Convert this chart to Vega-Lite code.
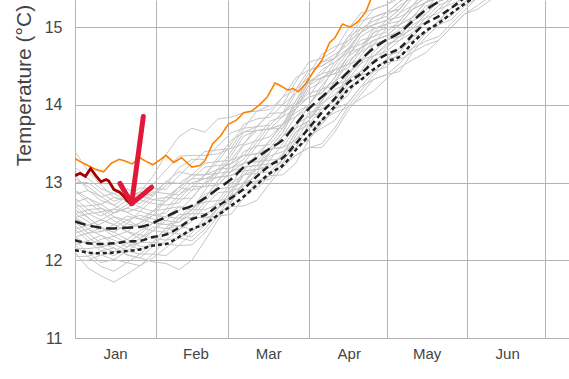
{
"$schema": "https://vega.github.io/schema/vega-lite/v6.json",
"width": 494, "height": 338,
"autosize": {"type": "none"},
"padding": {"left": 75, "top": 0, "right": 0, "bottom": 41},
"background": "white",
"config": {"view": {"stroke": null}, "font": "Liberation Sans"},
"datasets": {
"gray": [
{"s":1,"d":0,"t":13.40},{"s":1,"d":5,"t":13.15},{"s":1,"d":10,"t":12.97},{"s":1,"d":15,"t":12.81},{"s":1,"d":20,"t":12.77},{"s":1,"d":25,"t":12.73},{"s":1,"d":30,"t":12.86},{"s":1,"d":35,"t":13.01},{"s":1,"d":40,"t":12.99},{"s":1,"d":45,"t":13.10},{"s":1,"d":50,"t":13.10},{"s":1,"d":55,"t":13.17},{"s":1,"d":60,"t":13.24},{"s":1,"d":65,"t":13.48},{"s":1,"d":70,"t":13.54},{"s":1,"d":75,"t":13.59},{"s":1,"d":80,"t":13.75},{"s":1,"d":85,"t":14.00},{"s":1,"d":90,"t":14.25},{"s":1,"d":95,"t":14.45},{"s":1,"d":100,"t":14.55},{"s":1,"d":105,"t":14.70},{"s":1,"d":110,"t":14.93},{"s":1,"d":115,"t":15.03},{"s":1,"d":120,"t":15.09},{"s":1,"d":125,"t":15.23},{"s":1,"d":130,"t":15.43},
{"s":2,"d":0,"t":12.10},{"s":2,"d":5,"t":11.90},{"s":2,"d":10,"t":11.80},{"s":2,"d":15,"t":11.72},{"s":2,"d":20,"t":11.82},{"s":2,"d":25,"t":11.93},{"s":2,"d":30,"t":12.03},{"s":2,"d":35,"t":12.16},{"s":2,"d":40,"t":12.29},{"s":2,"d":45,"t":12.38},{"s":2,"d":50,"t":12.50},{"s":2,"d":55,"t":12.67},{"s":2,"d":60,"t":12.76},{"s":2,"d":65,"t":13.00},{"s":2,"d":70,"t":13.17},{"s":2,"d":75,"t":13.22},{"s":2,"d":80,"t":13.37},{"s":2,"d":85,"t":13.65},{"s":2,"d":90,"t":13.80},{"s":2,"d":95,"t":14.02},{"s":2,"d":100,"t":14.13},{"s":2,"d":105,"t":14.32},{"s":2,"d":110,"t":14.53},{"s":2,"d":115,"t":14.63},{"s":2,"d":120,"t":14.76},{"s":2,"d":125,"t":14.88},{"s":2,"d":130,"t":14.98},{"s":2,"d":135,"t":15.17},{"s":2,"d":140,"t":15.33},{"s":2,"d":145,"t":15.40},{"s":2,"d":150,"t":15.57},
{"s":3,"d":0,"t":12.50},{"s":3,"d":5,"t":12.35},{"s":3,"d":10,"t":12.22},{"s":3,"d":15,"t":12.16},{"s":3,"d":20,"t":12.07},{"s":3,"d":25,"t":12.03},{"s":3,"d":30,"t":11.98},{"s":3,"d":35,"t":11.96},{"s":3,"d":40,"t":11.88},{"s":3,"d":45,"t":12.00},{"s":3,"d":50,"t":12.25},{"s":3,"d":55,"t":12.52},{"s":3,"d":60,"t":12.74},{"s":3,"d":65,"t":13.00},{"s":3,"d":70,"t":13.17},{"s":3,"d":75,"t":13.34},{"s":3,"d":80,"t":13.40},{"s":3,"d":85,"t":13.50},{"s":3,"d":90,"t":13.60},{"s":3,"d":95,"t":13.70},{"s":3,"d":100,"t":13.80},{"s":3,"d":105,"t":14.02},{"s":3,"d":110,"t":14.23},{"s":3,"d":115,"t":14.33},{"s":3,"d":120,"t":14.39},{"s":3,"d":125,"t":14.53},{"s":3,"d":130,"t":14.73},{"s":3,"d":135,"t":14.82},{"s":3,"d":140,"t":14.88},{"s":3,"d":145,"t":15.05},{"s":3,"d":150,"t":15.22},{"s":3,"d":155,"t":15.38},{"s":3,"d":160,"t":15.50},
{"s":4,"d":0,"t":12.70},{"s":4,"d":5,"t":12.70},{"s":4,"d":10,"t":12.72},{"s":4,"d":15,"t":12.81},{"s":4,"d":20,"t":12.77},{"s":4,"d":25,"t":12.88},{"s":4,"d":30,"t":13.08},{"s":4,"d":35,"t":13.36},{"s":4,"d":40,"t":13.59},{"s":4,"d":45,"t":13.70},{"s":4,"d":50,"t":13.65},{"s":4,"d":55,"t":13.82},{"s":4,"d":60,"t":13.84},{"s":4,"d":65,"t":13.90},{"s":4,"d":70,"t":13.92},{"s":4,"d":75,"t":13.94},{"s":4,"d":80,"t":14.10},{"s":4,"d":85,"t":14.20},{"s":4,"d":90,"t":14.35},{"s":4,"d":95,"t":14.55},{"s":4,"d":100,"t":14.65},{"s":4,"d":105,"t":14.77},{"s":4,"d":110,"t":14.98},{"s":4,"d":115,"t":15.08},{"s":4,"d":120,"t":15.14},{"s":4,"d":125,"t":15.28},{"s":4,"d":130,"t":15.38},{"s":4,"d":135,"t":15.47},
{"s":5,"d":0,"t":12.60},{"s":5,"d":5,"t":12.50},{"s":5,"d":10,"t":12.37},{"s":5,"d":15,"t":12.41},{"s":5,"d":20,"t":12.52},{"s":5,"d":25,"t":12.58},{"s":5,"d":30,"t":12.53},{"s":5,"d":35,"t":12.51},{"s":5,"d":40,"t":12.64},{"s":5,"d":45,"t":12.80},{"s":5,"d":50,"t":13.00},{"s":5,"d":55,"t":13.07},{"s":5,"d":60,"t":13.09},{"s":5,"d":65,"t":13.20},{"s":5,"d":70,"t":13.22},{"s":5,"d":75,"t":13.39},{"s":5,"d":80,"t":13.60},{"s":5,"d":85,"t":13.85},{"s":5,"d":90,"t":13.95},{"s":5,"d":95,"t":14.05},{"s":5,"d":100,"t":14.30},{"s":5,"d":105,"t":14.57},{"s":5,"d":110,"t":14.68},{"s":5,"d":115,"t":14.78},{"s":5,"d":120,"t":14.84},{"s":5,"d":125,"t":14.88},{"s":5,"d":130,"t":15.13},{"s":5,"d":135,"t":15.32},{"s":5,"d":140,"t":15.38},{"s":5,"d":145,"t":15.45},
{"s":6,"d":0,"t":12.30},{"s":6,"d":5,"t":12.20},{"s":6,"d":10,"t":12.27},{"s":6,"d":15,"t":12.31},{"s":6,"d":20,"t":12.22},{"s":6,"d":25,"t":12.13},{"s":6,"d":30,"t":12.23},{"s":6,"d":35,"t":12.41},{"s":6,"d":40,"t":12.44},{"s":6,"d":45,"t":12.40},{"s":6,"d":50,"t":12.45},{"s":6,"d":55,"t":12.67},{"s":6,"d":60,"t":12.89},{"s":6,"d":65,"t":13.10},{"s":6,"d":70,"t":13.27},{"s":6,"d":75,"t":13.29},{"s":6,"d":80,"t":13.30},{"s":6,"d":85,"t":13.45},{"s":6,"d":90,"t":13.75},{"s":6,"d":95,"t":13.95},{"s":6,"d":100,"t":14.00},{"s":6,"d":105,"t":14.12},{"s":6,"d":110,"t":14.38},{"s":6,"d":115,"t":14.58},{"s":6,"d":120,"t":14.64},{"s":6,"d":125,"t":14.68},{"s":6,"d":130,"t":14.88},{"s":6,"d":135,"t":15.07},{"s":6,"d":140,"t":15.23},{"s":6,"d":145,"t":15.30},{"s":6,"d":150,"t":15.37},{"s":6,"d":155,"t":15.53},
{"s":7,"d":0,"t":12.80},{"s":7,"d":5,"t":12.65},{"s":7,"d":10,"t":12.57},{"s":7,"d":15,"t":12.66},{"s":7,"d":20,"t":12.62},{"s":7,"d":25,"t":12.53},{"s":7,"d":30,"t":12.63},{"s":7,"d":35,"t":12.81},{"s":7,"d":40,"t":12.94},{"s":7,"d":45,"t":12.90},{"s":7,"d":50,"t":12.95},{"s":7,"d":55,"t":13.17},{"s":7,"d":60,"t":13.39},{"s":7,"d":65,"t":13.65},{"s":7,"d":70,"t":13.72},{"s":7,"d":75,"t":13.74},{"s":7,"d":80,"t":13.90},{"s":7,"d":85,"t":14.20},{"s":7,"d":90,"t":14.45},{"s":7,"d":95,"t":14.50},{"s":7,"d":100,"t":14.60},{"s":7,"d":105,"t":14.87},{"s":7,"d":110,"t":15.08},{"s":7,"d":115,"t":15.13},{"s":7,"d":120,"t":15.19},{"s":7,"d":125,"t":15.33},{"s":7,"d":130,"t":15.53},
{"s":8,"d":0,"t":12.40},{"s":8,"d":5,"t":12.45},{"s":8,"d":10,"t":12.52},{"s":8,"d":15,"t":12.46},{"s":8,"d":20,"t":12.37},{"s":8,"d":25,"t":12.28},{"s":8,"d":30,"t":12.38},{"s":8,"d":35,"t":12.56},{"s":8,"d":40,"t":12.69},{"s":8,"d":45,"t":12.65},{"s":8,"d":50,"t":12.65},{"s":8,"d":55,"t":12.72},{"s":8,"d":60,"t":12.94},{"s":8,"d":65,"t":13.25},{"s":8,"d":70,"t":13.47},{"s":8,"d":75,"t":13.69},{"s":8,"d":80,"t":13.75},{"s":8,"d":85,"t":13.85},{"s":8,"d":90,"t":14.00},{"s":8,"d":95,"t":14.25},{"s":8,"d":100,"t":14.45},{"s":8,"d":105,"t":14.52},{"s":8,"d":110,"t":14.58},{"s":8,"d":115,"t":14.78},{"s":8,"d":120,"t":14.99},{"s":8,"d":125,"t":15.03},{"s":8,"d":130,"t":15.13},{"s":8,"d":135,"t":15.22},{"s":8,"d":140,"t":15.43},
{"s":9,"d":0,"t":12.55},{"s":9,"d":5,"t":12.60},{"s":9,"d":10,"t":12.62},{"s":9,"d":15,"t":12.51},{"s":9,"d":20,"t":12.42},{"s":9,"d":25,"t":12.48},{"s":9,"d":30,"t":12.63},{"s":9,"d":35,"t":12.66},{"s":9,"d":40,"t":12.84},{"s":9,"d":45,"t":13.00},{"s":9,"d":50,"t":13.05},{"s":9,"d":55,"t":13.07},{"s":9,"d":60,"t":13.09},{"s":9,"d":65,"t":13.15},{"s":9,"d":70,"t":13.17},{"s":9,"d":75,"t":13.19},{"s":9,"d":80,"t":13.35},{"s":9,"d":85,"t":13.65},{"s":9,"d":90,"t":13.75},{"s":9,"d":95,"t":13.80},{"s":9,"d":100,"t":14.00},{"s":9,"d":105,"t":14.27},{"s":9,"d":110,"t":14.38},{"s":9,"d":115,"t":14.43},{"s":9,"d":120,"t":14.49},{"s":9,"d":125,"t":14.68},{"s":9,"d":130,"t":14.88},{"s":9,"d":135,"t":14.92},{"s":9,"d":140,"t":15.08},{"s":9,"d":145,"t":15.25},{"s":9,"d":150,"t":15.42},
{"s":10,"d":0,"t":12.20},{"s":10,"d":5,"t":12.25},{"s":10,"d":10,"t":12.32},{"s":10,"d":15,"t":12.26},{"s":10,"d":20,"t":12.17},{"s":10,"d":25,"t":12.23},{"s":10,"d":30,"t":12.38},{"s":10,"d":35,"t":12.51},{"s":10,"d":40,"t":12.49},{"s":10,"d":45,"t":12.60},{"s":10,"d":50,"t":12.80},{"s":10,"d":55,"t":13.02},{"s":10,"d":60,"t":13.24},{"s":10,"d":65,"t":13.35},{"s":10,"d":70,"t":13.37},{"s":10,"d":75,"t":13.44},{"s":10,"d":80,"t":13.65},{"s":10,"d":85,"t":13.95},{"s":10,"d":90,"t":14.20},{"s":10,"d":95,"t":14.30},{"s":10,"d":100,"t":14.55},{"s":10,"d":105,"t":14.67},{"s":10,"d":110,"t":14.73},{"s":10,"d":115,"t":14.93},{"s":10,"d":120,"t":15.09},{"s":10,"d":125,"t":15.13},{"s":10,"d":130,"t":15.23},{"s":10,"d":135,"t":15.42},
{"s":11,"d":0,"t":12.90},{"s":11,"d":5,"t":12.80},{"s":11,"d":10,"t":12.67},{"s":11,"d":15,"t":12.61},{"s":11,"d":20,"t":12.72},{"s":11,"d":25,"t":12.78},{"s":11,"d":30,"t":12.73},{"s":11,"d":35,"t":12.71},{"s":11,"d":40,"t":12.74},{"s":11,"d":45,"t":12.90},{"s":11,"d":50,"t":13.10},{"s":11,"d":55,"t":13.32},{"s":11,"d":60,"t":13.54},{"s":11,"d":65,"t":13.65},{"s":11,"d":70,"t":13.67},{"s":11,"d":75,"t":13.69},{"s":11,"d":80,"t":13.70},{"s":11,"d":85,"t":13.95},{"s":11,"d":90,"t":14.25},{"s":11,"d":95,"t":14.35},{"s":11,"d":100,"t":14.40},{"s":11,"d":105,"t":14.47},{"s":11,"d":110,"t":14.68},{"s":11,"d":115,"t":14.93},{"s":11,"d":120,"t":14.99},{"s":11,"d":125,"t":15.03},{"s":11,"d":130,"t":15.13},{"s":11,"d":135,"t":15.32},{"s":11,"d":140,"t":15.48},
{"s":12,"d":0,"t":12.00},{"s":12,"d":5,"t":12.00},{"s":12,"d":10,"t":12.07},{"s":12,"d":15,"t":12.01},{"s":12,"d":20,"t":11.97},{"s":12,"d":25,"t":11.93},{"s":12,"d":30,"t":12.08},{"s":12,"d":35,"t":12.26},{"s":12,"d":40,"t":12.29},{"s":12,"d":45,"t":12.25},{"s":12,"d":50,"t":12.40},{"s":12,"d":55,"t":12.62},{"s":12,"d":60,"t":12.69},{"s":12,"d":65,"t":12.70},{"s":12,"d":70,"t":12.77},{"s":12,"d":75,"t":12.99},{"s":12,"d":80,"t":13.20},{"s":12,"d":85,"t":13.35},{"s":12,"d":90,"t":13.45},{"s":12,"d":95,"t":13.50},{"s":12,"d":100,"t":13.70},{"s":12,"d":105,"t":13.97},{"s":12,"d":110,"t":14.08},{"s":12,"d":115,"t":14.18},{"s":12,"d":120,"t":14.34},{"s":12,"d":125,"t":14.48},{"s":12,"d":130,"t":14.58},{"s":12,"d":135,"t":14.67},{"s":12,"d":140,"t":14.83},{"s":12,"d":145,"t":15.00},{"s":12,"d":150,"t":15.17},{"s":12,"d":155,"t":15.23},{"s":12,"d":160,"t":15.35},{"s":12,"d":165,"t":15.50},
{"s":13,"d":0,"t":12.65},{"s":13,"d":5,"t":12.55},{"s":13,"d":10,"t":12.42},{"s":13,"d":15,"t":12.36},{"s":13,"d":20,"t":12.47},{"s":13,"d":25,"t":12.63},{"s":13,"d":30,"t":12.78},{"s":13,"d":35,"t":12.81},{"s":13,"d":40,"t":12.79},{"s":13,"d":45,"t":12.80},{"s":13,"d":50,"t":13.00},{"s":13,"d":55,"t":13.17},{"s":13,"d":60,"t":13.19},{"s":13,"d":65,"t":13.30},{"s":13,"d":70,"t":13.52},{"s":13,"d":75,"t":13.74},{"s":13,"d":80,"t":13.90},{"s":13,"d":85,"t":14.00},{"s":13,"d":90,"t":14.10},{"s":13,"d":95,"t":14.15},{"s":13,"d":100,"t":14.35},{"s":13,"d":105,"t":14.62},{"s":13,"d":110,"t":14.83},{"s":13,"d":115,"t":14.88},{"s":13,"d":120,"t":14.94},{"s":13,"d":125,"t":15.08},{"s":13,"d":130,"t":15.28},{"s":13,"d":135,"t":15.47},
{"s":14,"d":0,"t":12.35},{"s":14,"d":5,"t":12.40},{"s":14,"d":10,"t":12.47},{"s":14,"d":15,"t":12.56},{"s":14,"d":20,"t":12.52},{"s":14,"d":25,"t":12.43},{"s":14,"d":30,"t":12.38},{"s":14,"d":35,"t":12.36},{"s":14,"d":40,"t":12.54},{"s":14,"d":45,"t":12.70},{"s":14,"d":50,"t":12.75},{"s":14,"d":55,"t":12.77},{"s":14,"d":60,"t":12.79},{"s":14,"d":65,"t":13.00},{"s":14,"d":70,"t":13.22},{"s":14,"d":75,"t":13.44},{"s":14,"d":80,"t":13.45},{"s":14,"d":85,"t":13.55},{"s":14,"d":90,"t":13.80},{"s":14,"d":95,"t":14.05},{"s":14,"d":100,"t":14.25},{"s":14,"d":105,"t":14.32},{"s":14,"d":110,"t":14.43},{"s":14,"d":115,"t":14.68},{"s":14,"d":120,"t":14.84},{"s":14,"d":125,"t":14.98},{"s":14,"d":130,"t":15.08},{"s":14,"d":135,"t":15.17},{"s":14,"d":140,"t":15.33},{"s":14,"d":145,"t":15.50},
{"s":15,"d":0,"t":13.10},{"s":15,"d":5,"t":12.90},{"s":15,"d":10,"t":12.77},{"s":15,"d":15,"t":12.71},{"s":15,"d":20,"t":12.82},{"s":15,"d":25,"t":12.88},{"s":15,"d":30,"t":12.83},{"s":15,"d":35,"t":12.96},{"s":15,"d":40,"t":13.19},{"s":15,"d":45,"t":13.30},{"s":15,"d":50,"t":13.30},{"s":15,"d":55,"t":13.47},{"s":15,"d":60,"t":13.64},{"s":15,"d":65,"t":13.70},{"s":15,"d":70,"t":13.72},{"s":15,"d":75,"t":13.89},{"s":15,"d":80,"t":14.10},{"s":15,"d":85,"t":14.35},{"s":15,"d":90,"t":14.45},{"s":15,"d":95,"t":14.50},{"s":15,"d":100,"t":14.60},{"s":15,"d":105,"t":14.87},{"s":15,"d":110,"t":14.98},{"s":15,"d":115,"t":15.03},{"s":15,"d":120,"t":15.19},{"s":15,"d":125,"t":15.33},{"s":15,"d":130,"t":15.43},
{"s":16,"d":0,"t":12.45},{"s":16,"d":5,"t":12.30},{"s":16,"d":10,"t":12.17},{"s":16,"d":15,"t":12.11},{"s":16,"d":20,"t":12.22},{"s":16,"d":25,"t":12.33},{"s":16,"d":30,"t":12.28},{"s":16,"d":35,"t":12.26},{"s":16,"d":40,"t":12.39},{"s":16,"d":45,"t":12.55},{"s":16,"d":50,"t":12.55},{"s":16,"d":55,"t":12.57},{"s":16,"d":60,"t":12.74},{"s":16,"d":65,"t":13.00},{"s":16,"d":70,"t":13.02},{"s":16,"d":75,"t":13.04},{"s":16,"d":80,"t":13.25},{"s":16,"d":85,"t":13.55},{"s":16,"d":90,"t":13.70},{"s":16,"d":95,"t":13.75},{"s":16,"d":100,"t":13.95},{"s":16,"d":105,"t":14.22},{"s":16,"d":110,"t":14.33},{"s":16,"d":115,"t":14.43},{"s":16,"d":120,"t":14.59},{"s":16,"d":125,"t":14.73},{"s":16,"d":130,"t":14.83},{"s":16,"d":135,"t":14.92},{"s":16,"d":140,"t":15.08},{"s":16,"d":145,"t":15.25},{"s":16,"d":150,"t":15.32},{"s":16,"d":155,"t":15.48},
{"s":17,"d":0,"t":12.75},{"s":17,"d":5,"t":12.80},{"s":17,"d":10,"t":12.72},{"s":17,"d":15,"t":12.61},{"s":17,"d":20,"t":12.67},{"s":17,"d":25,"t":12.78},{"s":17,"d":30,"t":12.88},{"s":17,"d":35,"t":12.86},{"s":17,"d":40,"t":12.84},{"s":17,"d":45,"t":12.95},{"s":17,"d":50,"t":12.95},{"s":17,"d":55,"t":12.97},{"s":17,"d":60,"t":13.14},{"s":17,"d":65,"t":13.40},{"s":17,"d":70,"t":13.47},{"s":17,"d":75,"t":13.49},{"s":17,"d":80,"t":13.70},{"s":17,"d":85,"t":14.00},{"s":17,"d":90,"t":14.30},{"s":17,"d":95,"t":14.40},{"s":17,"d":100,"t":14.45},{"s":17,"d":105,"t":14.67},{"s":17,"d":110,"t":14.93},{"s":17,"d":115,"t":15.13},{"s":17,"d":120,"t":15.19},{"s":17,"d":125,"t":15.23},{"s":17,"d":130,"t":15.43},
{"s":18,"d":0,"t":12.15},{"s":18,"d":5,"t":12.15},{"s":18,"d":10,"t":12.17},{"s":18,"d":15,"t":12.21},{"s":18,"d":20,"t":12.12},{"s":18,"d":25,"t":12.08},{"s":18,"d":30,"t":12.23},{"s":18,"d":35,"t":12.41},{"s":18,"d":40,"t":12.59},{"s":18,"d":45,"t":12.60},{"s":18,"d":50,"t":12.60},{"s":18,"d":55,"t":12.67},{"s":18,"d":60,"t":12.89},{"s":18,"d":65,"t":13.15},{"s":18,"d":70,"t":13.37},{"s":18,"d":75,"t":13.44},{"s":18,"d":80,"t":13.45},{"s":18,"d":85,"t":13.70},{"s":18,"d":90,"t":14.00},{"s":18,"d":95,"t":14.20},{"s":18,"d":100,"t":14.25},{"s":18,"d":105,"t":14.37},{"s":18,"d":110,"t":14.63},{"s":18,"d":115,"t":14.83},{"s":18,"d":120,"t":14.89},{"s":18,"d":125,"t":14.93},{"s":18,"d":130,"t":15.13},{"s":18,"d":135,"t":15.32},{"s":18,"d":140,"t":15.38},{"s":18,"d":145,"t":15.45},
{"s":19,"d":0,"t":12.55},{"s":19,"d":5,"t":12.40},{"s":19,"d":10,"t":12.32},{"s":19,"d":15,"t":12.21},{"s":19,"d":20,"t":12.27},{"s":19,"d":25,"t":12.38},{"s":19,"d":30,"t":12.48},{"s":19,"d":35,"t":12.46},{"s":19,"d":40,"t":12.44},{"s":19,"d":45,"t":12.55},{"s":19,"d":50,"t":12.75},{"s":19,"d":55,"t":12.97},{"s":19,"d":60,"t":13.14},{"s":19,"d":65,"t":13.20},{"s":19,"d":70,"t":13.22},{"s":19,"d":75,"t":13.24},{"s":19,"d":80,"t":13.25},{"s":19,"d":85,"t":13.35},{"s":19,"d":90,"t":13.45},{"s":19,"d":95,"t":13.45},{"s":19,"d":100,"t":13.65},{"s":19,"d":105,"t":13.92},{"s":19,"d":110,"t":14.13},{"s":19,"d":115,"t":14.33},{"s":19,"d":120,"t":14.39},{"s":19,"d":125,"t":14.43},{"s":19,"d":130,"t":14.68},{"s":19,"d":135,"t":14.77},{"s":19,"d":140,"t":14.83},{"s":19,"d":145,"t":15.00},{"s":19,"d":150,"t":15.17},{"s":19,"d":155,"t":15.28},{"s":19,"d":160,"t":15.40},{"s":19,"d":165,"t":15.55},
{"s":20,"d":0,"t":13.00},{"s":20,"d":5,"t":13.00},{"s":20,"d":10,"t":12.87},{"s":20,"d":15,"t":12.76},{"s":20,"d":20,"t":12.82},{"s":20,"d":25,"t":12.93},{"s":20,"d":30,"t":12.93},{"s":20,"d":35,"t":12.91},{"s":20,"d":40,"t":13.09},{"s":20,"d":45,"t":13.25},{"s":20,"d":50,"t":13.40},{"s":20,"d":55,"t":13.42},{"s":20,"d":60,"t":13.44},{"s":20,"d":65,"t":13.50},{"s":20,"d":70,"t":13.67},{"s":20,"d":75,"t":13.69},{"s":20,"d":80,"t":13.85},{"s":20,"d":85,"t":14.15},{"s":20,"d":90,"t":14.40},{"s":20,"d":95,"t":14.65},{"s":20,"d":100,"t":14.75},{"s":20,"d":105,"t":14.82},{"s":20,"d":110,"t":15.03},{"s":20,"d":115,"t":15.23},{"s":20,"d":120,"t":15.29},{"s":20,"d":125,"t":15.38},{"s":20,"d":130,"t":15.48},
{"s":21,"d":0,"t":12.70},{"s":21,"d":5,"t":12.55},{"s":21,"d":10,"t":12.42},{"s":21,"d":15,"t":12.31},{"s":21,"d":20,"t":12.37},{"s":21,"d":25,"t":12.48},{"s":21,"d":30,"t":12.58},{"s":21,"d":35,"t":12.56},{"s":21,"d":40,"t":12.54},{"s":21,"d":45,"t":12.65},{"s":21,"d":50,"t":12.90},{"s":21,"d":55,"t":13.12},{"s":21,"d":60,"t":13.29},{"s":21,"d":65,"t":13.35},{"s":21,"d":70,"t":13.37},{"s":21,"d":75,"t":13.54},{"s":21,"d":80,"t":13.75},{"s":21,"d":85,"t":13.90},{"s":21,"d":90,"t":14.00},{"s":21,"d":95,"t":14.20},{"s":21,"d":100,"t":14.50},{"s":21,"d":105,"t":14.72},{"s":21,"d":110,"t":14.78},{"s":21,"d":115,"t":14.88},{"s":21,"d":120,"t":15.04},{"s":21,"d":125,"t":15.18},{"s":21,"d":130,"t":15.28},{"s":21,"d":135,"t":15.37},{"s":21,"d":140,"t":15.53},
{"s":22,"d":0,"t":12.25},{"s":22,"d":5,"t":12.10},{"s":22,"d":10,"t":11.97},{"s":22,"d":15,"t":12.01},{"s":22,"d":20,"t":12.12},{"s":22,"d":25,"t":12.23},{"s":22,"d":30,"t":12.23},{"s":22,"d":35,"t":12.21},{"s":22,"d":40,"t":12.19},{"s":22,"d":45,"t":12.20},{"s":22,"d":50,"t":12.35},{"s":22,"d":55,"t":12.57},{"s":22,"d":60,"t":12.84},{"s":22,"d":65,"t":13.10},{"s":22,"d":70,"t":13.12},{"s":22,"d":75,"t":13.14},{"s":22,"d":80,"t":13.30},{"s":22,"d":85,"t":13.60},{"s":22,"d":90,"t":13.90},{"s":22,"d":95,"t":13.95},{"s":22,"d":100,"t":14.05},{"s":22,"d":105,"t":14.32},{"s":22,"d":110,"t":14.43},{"s":22,"d":115,"t":14.53},{"s":22,"d":120,"t":14.74},{"s":22,"d":125,"t":14.88},{"s":22,"d":130,"t":14.98},{"s":22,"d":135,"t":15.07},{"s":22,"d":140,"t":15.23},{"s":22,"d":145,"t":15.40},{"s":22,"d":150,"t":15.47},
{"s":23,"d":0,"t":12.85},{"s":23,"d":5,"t":12.90},{"s":23,"d":10,"t":12.82},{"s":23,"d":15,"t":12.71},{"s":23,"d":20,"t":12.62},{"s":23,"d":25,"t":12.68},{"s":23,"d":30,"t":12.83},{"s":23,"d":35,"t":13.01},{"s":23,"d":40,"t":13.14},{"s":23,"d":45,"t":13.10},{"s":23,"d":50,"t":13.10},{"s":23,"d":55,"t":13.27},{"s":23,"d":60,"t":13.49},{"s":23,"d":65,"t":13.75},{"s":23,"d":70,"t":13.82},{"s":23,"d":75,"t":13.84},{"s":23,"d":80,"t":14.00},{"s":23,"d":85,"t":14.30},{"s":23,"d":90,"t":14.55},{"s":23,"d":95,"t":14.60},{"s":23,"d":100,"t":14.70},{"s":23,"d":105,"t":14.97},{"s":23,"d":110,"t":15.18},{"s":23,"d":115,"t":15.23},{"s":23,"d":120,"t":15.29},{"s":23,"d":125,"t":15.43},
{"s":24,"d":0,"t":12.50},{"s":24,"d":5,"t":12.35},{"s":24,"d":10,"t":12.37},{"s":24,"d":15,"t":12.46},{"s":24,"d":20,"t":12.57},{"s":24,"d":25,"t":12.53},{"s":24,"d":30,"t":12.48},{"s":24,"d":35,"t":12.46},{"s":24,"d":40,"t":12.49},{"s":24,"d":45,"t":12.65},{"s":24,"d":50,"t":12.85},{"s":24,"d":55,"t":12.92},{"s":24,"d":60,"t":12.94},{"s":24,"d":65,"t":13.00},{"s":24,"d":70,"t":13.07},{"s":24,"d":75,"t":13.29},{"s":24,"d":80,"t":13.50},{"s":24,"d":85,"t":13.75},{"s":24,"d":90,"t":13.85},{"s":24,"d":95,"t":13.90},{"s":24,"d":100,"t":14.10},{"s":24,"d":105,"t":14.37},{"s":24,"d":110,"t":14.58},{"s":24,"d":115,"t":14.63},{"s":24,"d":120,"t":14.69},{"s":24,"d":125,"t":14.83},{"s":24,"d":130,"t":15.03},{"s":24,"d":135,"t":15.12},{"s":24,"d":140,"t":15.18},{"s":24,"d":145,"t":15.35},{"s":24,"d":150,"t":15.52},
{"s":25,"d":0,"t":13.05},{"s":25,"d":5,"t":12.95},{"s":25,"d":10,"t":12.82},{"s":25,"d":15,"t":12.86},{"s":25,"d":20,"t":12.92},{"s":25,"d":25,"t":12.83},{"s":25,"d":30,"t":12.78},{"s":25,"d":35,"t":12.76},{"s":25,"d":40,"t":12.89},{"s":25,"d":45,"t":13.05},{"s":25,"d":50,"t":13.20},{"s":25,"d":55,"t":13.22},{"s":25,"d":60,"t":13.24},{"s":25,"d":65,"t":13.35},{"s":25,"d":70,"t":13.57},{"s":25,"d":75,"t":13.79},{"s":25,"d":80,"t":13.85},{"s":25,"d":85,"t":13.95},{"s":25,"d":90,"t":14.10},{"s":25,"d":95,"t":14.35},{"s":25,"d":100,"t":14.45},{"s":25,"d":105,"t":14.52},{"s":25,"d":110,"t":14.73},{"s":25,"d":115,"t":14.98},{"s":25,"d":120,"t":15.04},{"s":25,"d":125,"t":15.08},{"s":25,"d":130,"t":15.28},{"s":25,"d":135,"t":15.47},
{"s":26,"d":0,"t":12.05},{"s":26,"d":5,"t":12.05},{"s":26,"d":10,"t":12.12},{"s":26,"d":15,"t":12.16},{"s":26,"d":20,"t":12.07},{"s":26,"d":25,"t":12.03},{"s":26,"d":30,"t":12.18},{"s":26,"d":35,"t":12.36},{"s":26,"d":40,"t":12.34},{"s":26,"d":45,"t":12.30},{"s":26,"d":50,"t":12.45},{"s":26,"d":55,"t":12.67},{"s":26,"d":60,"t":12.84},{"s":26,"d":65,"t":12.90},{"s":26,"d":70,"t":12.92},{"s":26,"d":75,"t":13.09},{"s":26,"d":80,"t":13.30},{"s":26,"d":85,"t":13.45},{"s":26,"d":90,"t":13.55},{"s":26,"d":95,"t":13.75},{"s":26,"d":100,"t":13.95},{"s":26,"d":105,"t":14.02},{"s":26,"d":110,"t":14.23},{"s":26,"d":115,"t":14.43},{"s":26,"d":120,"t":14.59},{"s":26,"d":125,"t":14.63},{"s":26,"d":130,"t":14.73},{"s":26,"d":135,"t":14.92},{"s":26,"d":140,"t":15.08},{"s":26,"d":145,"t":15.15},{"s":26,"d":150,"t":15.32},{"s":26,"d":155,"t":15.43},
{"s":27,"d":0,"t":12.60},{"s":27,"d":5,"t":12.65},{"s":27,"d":10,"t":12.67},{"s":27,"d":15,"t":12.56},{"s":27,"d":20,"t":12.47},{"s":27,"d":25,"t":12.43},{"s":27,"d":30,"t":12.58},{"s":27,"d":35,"t":12.76},{"s":27,"d":40,"t":12.94},{"s":27,"d":45,"t":13.05},{"s":27,"d":50,"t":13.05},{"s":27,"d":55,"t":13.12},{"s":27,"d":60,"t":13.34},{"s":27,"d":65,"t":13.60},{"s":27,"d":70,"t":13.67},{"s":27,"d":75,"t":13.69},{"s":27,"d":80,"t":13.75},{"s":27,"d":85,"t":14.05},{"s":27,"d":90,"t":14.30},{"s":27,"d":95,"t":14.35},{"s":27,"d":100,"t":14.40},{"s":27,"d":105,"t":14.62},{"s":27,"d":110,"t":14.88},{"s":27,"d":115,"t":14.98},{"s":27,"d":120,"t":15.04},{"s":27,"d":125,"t":15.18},{"s":27,"d":130,"t":15.38},{"s":27,"d":135,"t":15.47},
{"s":28,"d":0,"t":12.40},{"s":28,"d":5,"t":12.25},{"s":28,"d":10,"t":12.12},{"s":28,"d":15,"t":12.06},{"s":28,"d":20,"t":12.17},{"s":28,"d":25,"t":12.28},{"s":28,"d":30,"t":12.43},{"s":28,"d":35,"t":12.41},{"s":28,"d":40,"t":12.39},{"s":28,"d":45,"t":12.50},{"s":28,"d":50,"t":12.70},{"s":28,"d":55,"t":12.87},{"s":28,"d":60,"t":12.89},{"s":28,"d":65,"t":12.95},{"s":28,"d":70,"t":13.12},{"s":28,"d":75,"t":13.39},{"s":28,"d":80,"t":13.60},{"s":28,"d":85,"t":13.75},{"s":28,"d":90,"t":13.85},{"s":28,"d":95,"t":14.05},{"s":28,"d":100,"t":14.30},{"s":28,"d":105,"t":14.42},{"s":28,"d":110,"t":14.53},{"s":28,"d":115,"t":14.78},{"s":28,"d":120,"t":14.84},{"s":28,"d":125,"t":14.88},{"s":28,"d":130,"t":15.08},{"s":28,"d":135,"t":15.27},{"s":28,"d":140,"t":15.33},{"s":28,"d":145,"t":15.40},{"s":28,"d":150,"t":15.57},
{"s":29,"d":0,"t":13.20},{"s":29,"d":5,"t":13.05},{"s":29,"d":10,"t":12.92},{"s":29,"d":15,"t":12.86},{"s":29,"d":20,"t":12.77},{"s":29,"d":25,"t":12.83},{"s":29,"d":30,"t":12.98},{"s":29,"d":35,"t":13.16},{"s":29,"d":40,"t":13.34},{"s":29,"d":45,"t":13.35},{"s":29,"d":50,"t":13.35},{"s":29,"d":55,"t":13.37},{"s":29,"d":60,"t":13.44},{"s":29,"d":65,"t":13.70},{"s":29,"d":70,"t":13.92},{"s":29,"d":75,"t":13.99},{"s":29,"d":80,"t":14.00},{"s":29,"d":85,"t":14.15},{"s":29,"d":90,"t":14.30},{"s":29,"d":95,"t":14.40},{"s":29,"d":100,"t":14.60},{"s":29,"d":105,"t":14.82},{"s":29,"d":110,"t":14.93},{"s":29,"d":115,"t":15.03},{"s":29,"d":120,"t":15.09},{"s":29,"d":125,"t":15.23},{"s":29,"d":130,"t":15.43},
{"s":30,"d":0,"t":12.30},{"s":30,"d":5,"t":12.35},{"s":30,"d":10,"t":12.42},{"s":30,"d":15,"t":12.36},{"s":30,"d":20,"t":12.27},{"s":30,"d":25,"t":12.18},{"s":30,"d":30,"t":12.18},{"s":30,"d":35,"t":12.36},{"s":30,"d":40,"t":12.54},{"s":30,"d":45,"t":12.55},{"s":30,"d":50,"t":12.55},{"s":30,"d":55,"t":12.57},{"s":30,"d":60,"t":12.59},{"s":30,"d":65,"t":12.80},{"s":30,"d":70,"t":13.02},{"s":30,"d":75,"t":13.09},{"s":30,"d":80,"t":13.10},{"s":30,"d":85,"t":13.25},{"s":30,"d":90,"t":13.55},{"s":30,"d":95,"t":13.80},{"s":30,"d":100,"t":13.90},{"s":30,"d":105,"t":13.97},{"s":30,"d":110,"t":14.18},{"s":30,"d":115,"t":14.38},{"s":30,"d":120,"t":14.54},{"s":30,"d":125,"t":14.58},{"s":30,"d":130,"t":14.68},{"s":30,"d":135,"t":14.87},{"s":30,"d":140,"t":15.03},{"s":30,"d":145,"t":15.10},{"s":30,"d":150,"t":15.27},{"s":30,"d":155,"t":15.38},{"s":30,"d":160,"t":15.50},
{"s":31,"d":0,"t":12.75},{"s":31,"d":5,"t":12.60},{"s":31,"d":10,"t":12.52},{"s":31,"d":15,"t":12.46},{"s":31,"d":20,"t":12.37},{"s":31,"d":25,"t":12.33},{"s":31,"d":30,"t":12.48},{"s":31,"d":35,"t":12.66},{"s":31,"d":40,"t":12.69},{"s":31,"d":45,"t":12.65},{"s":31,"d":50,"t":12.80},{"s":31,"d":55,"t":13.02},{"s":31,"d":60,"t":13.19},{"s":31,"d":65,"t":13.25},{"s":31,"d":70,"t":13.27},{"s":31,"d":75,"t":13.44},{"s":31,"d":80,"t":13.65},{"s":31,"d":85,"t":13.95},{"s":31,"d":90,"t":14.10},{"s":31,"d":95,"t":14.15},{"s":31,"d":100,"t":14.35},{"s":31,"d":105,"t":14.62},{"s":31,"d":110,"t":14.73},{"s":31,"d":115,"t":14.83},{"s":31,"d":120,"t":14.89},{"s":31,"d":125,"t":15.03},{"s":31,"d":130,"t":15.23},{"s":31,"d":135,"t":15.32},{"s":31,"d":140,"t":15.38},{"s":31,"d":145,"t":15.55},
{"s":32,"d":0,"t":12.20},{"s":32,"d":5,"t":12.05},{"s":32,"d":10,"t":11.92},{"s":32,"d":15,"t":11.86},{"s":32,"d":20,"t":11.97},{"s":32,"d":25,"t":12.08},{"s":32,"d":30,"t":12.08},{"s":32,"d":35,"t":12.06},{"s":32,"d":40,"t":12.19},{"s":32,"d":45,"t":12.35},{"s":32,"d":50,"t":12.55},{"s":32,"d":55,"t":12.77},{"s":32,"d":60,"t":12.99},{"s":32,"d":65,"t":13.10},{"s":32,"d":70,"t":13.17},{"s":32,"d":75,"t":13.39},{"s":32,"d":80,"t":13.60},{"s":32,"d":85,"t":13.70},{"s":32,"d":90,"t":13.80},{"s":32,"d":95,"t":14.00},{"s":32,"d":100,"t":14.20},{"s":32,"d":105,"t":14.27},{"s":32,"d":110,"t":14.38},{"s":32,"d":115,"t":14.63},{"s":32,"d":120,"t":14.79},{"s":32,"d":125,"t":14.83},{"s":32,"d":130,"t":14.93},{"s":32,"d":135,"t":15.12},{"s":32,"d":140,"t":15.28},{"s":32,"d":145,"t":15.35},{"s":32,"d":150,"t":15.52},
{"s":33,"d":0,"t":12.90},{"s":33,"d":5,"t":12.75},{"s":33,"d":10,"t":12.62},{"s":33,"d":15,"t":12.66},{"s":33,"d":20,"t":12.77},{"s":33,"d":25,"t":12.68},{"s":33,"d":30,"t":12.63},{"s":33,"d":35,"t":12.76},{"s":33,"d":40,"t":12.94},{"s":33,"d":45,"t":13.10},{"s":33,"d":50,"t":13.25},{"s":33,"d":55,"t":13.27},{"s":33,"d":60,"t":13.29},{"s":33,"d":65,"t":13.50},{"s":33,"d":70,"t":13.72},{"s":33,"d":75,"t":13.89},{"s":33,"d":80,"t":13.90},{"s":33,"d":85,"t":14.05},{"s":33,"d":90,"t":14.35},{"s":33,"d":95,"t":14.55},{"s":33,"d":100,"t":14.60},{"s":33,"d":105,"t":14.72},{"s":33,"d":110,"t":14.93},{"s":33,"d":115,"t":15.13},{"s":33,"d":120,"t":15.19},{"s":33,"d":125,"t":15.23},{"s":33,"d":130,"t":15.43},
{"s":34,"d":0,"t":12.55},{"s":34,"d":5,"t":12.45},{"s":34,"d":10,"t":12.52},{"s":34,"d":15,"t":12.61},{"s":34,"d":20,"t":12.67},{"s":34,"d":25,"t":12.63},{"s":34,"d":30,"t":12.58},{"s":34,"d":35,"t":12.61},{"s":34,"d":40,"t":12.79},{"s":34,"d":45,"t":12.95},{"s":34,"d":50,"t":13.10},{"s":34,"d":55,"t":13.12},{"s":34,"d":60,"t":13.14},{"s":34,"d":65,"t":13.25},{"s":34,"d":70,"t":13.32},{"s":34,"d":75,"t":13.54},{"s":34,"d":80,"t":13.75},{"s":34,"d":85,"t":14.00},{"s":34,"d":90,"t":14.15},{"s":34,"d":95,"t":14.20},{"s":34,"d":100,"t":14.30},{"s":34,"d":105,"t":14.52},{"s":34,"d":110,"t":14.73},{"s":34,"d":115,"t":14.83},{"s":34,"d":120,"t":14.89},{"s":34,"d":125,"t":15.03},{"s":34,"d":130,"t":15.23},{"s":34,"d":135,"t":15.32},{"s":34,"d":140,"t":15.38},{"s":34,"d":145,"t":15.50}
],
"means": [
{"s":"m1","d":0,"t":12.50},{"s":"m1","d":5,"t":12.45},{"s":"m1","d":10,"t":12.42},{"s":"m1","d":15,"t":12.41},{"s":"m1","d":20,"t":12.42},{"s":"m1","d":25,"t":12.43},{"s":"m1","d":30,"t":12.48},{"s":"m1","d":35,"t":12.56},{"s":"m1","d":40,"t":12.64},{"s":"m1","d":45,"t":12.70},{"s":"m1","d":50,"t":12.80},{"s":"m1","d":55,"t":12.92},{"s":"m1","d":60,"t":13.04},{"s":"m1","d":65,"t":13.20},{"s":"m1","d":70,"t":13.32},{"s":"m1","d":75,"t":13.44},{"s":"m1","d":80,"t":13.55},{"s":"m1","d":85,"t":13.75},{"s":"m1","d":90,"t":13.95},{"s":"m1","d":95,"t":14.10},{"s":"m1","d":100,"t":14.25},{"s":"m1","d":105,"t":14.42},{"s":"m1","d":110,"t":14.58},{"s":"m1","d":115,"t":14.73},{"s":"m1","d":120,"t":14.84},{"s":"m1","d":125,"t":14.93},{"s":"m1","d":130,"t":15.08},{"s":"m1","d":135,"t":15.22},{"s":"m1","d":140,"t":15.33},{"s":"m1","d":145,"t":15.45},
{"s":"m2","d":0,"t":12.26},{"s":"m2","d":5,"t":12.22},{"s":"m2","d":10,"t":12.21},{"s":"m2","d":15,"t":12.22},{"s":"m2","d":20,"t":12.24},{"s":"m2","d":25,"t":12.25},{"s":"m2","d":30,"t":12.30},{"s":"m2","d":35,"t":12.33},{"s":"m2","d":40,"t":12.42},{"s":"m2","d":45,"t":12.53},{"s":"m2","d":50,"t":12.58},{"s":"m2","d":55,"t":12.70},{"s":"m2","d":60,"t":12.80},{"s":"m2","d":65,"t":12.92},{"s":"m2","d":70,"t":13.08},{"s":"m2","d":75,"t":13.22},{"s":"m2","d":80,"t":13.32},{"s":"m2","d":85,"t":13.50},{"s":"m2","d":90,"t":13.70},{"s":"m2","d":95,"t":13.90},{"s":"m2","d":100,"t":14.08},{"s":"m2","d":105,"t":14.28},{"s":"m2","d":110,"t":14.40},{"s":"m2","d":115,"t":14.55},{"s":"m2","d":120,"t":14.65},{"s":"m2","d":125,"t":14.73},{"s":"m2","d":130,"t":14.90},{"s":"m2","d":135,"t":15.05},{"s":"m2","d":140,"t":15.14},{"s":"m2","d":145,"t":15.25},{"s":"m2","d":150,"t":15.38},
{"s":"m3","d":0,"t":12.13},{"s":"m3","d":5,"t":12.10},{"s":"m3","d":10,"t":12.09},{"s":"m3","d":15,"t":12.10},{"s":"m3","d":20,"t":12.12},{"s":"m3","d":25,"t":12.14},{"s":"m3","d":30,"t":12.19},{"s":"m3","d":35,"t":12.21},{"s":"m3","d":40,"t":12.30},{"s":"m3","d":45,"t":12.40},{"s":"m3","d":50,"t":12.47},{"s":"m3","d":55,"t":12.58},{"s":"m3","d":60,"t":12.70},{"s":"m3","d":65,"t":12.82},{"s":"m3","d":70,"t":12.97},{"s":"m3","d":75,"t":13.12},{"s":"m3","d":80,"t":13.22},{"s":"m3","d":85,"t":13.42},{"s":"m3","d":90,"t":13.60},{"s":"m3","d":95,"t":13.80},{"s":"m3","d":100,"t":13.98},{"s":"m3","d":105,"t":14.19},{"s":"m3","d":110,"t":14.32},{"s":"m3","d":115,"t":14.46},{"s":"m3","d":120,"t":14.56},{"s":"m3","d":125,"t":14.62},{"s":"m3","d":130,"t":14.80},{"s":"m3","d":135,"t":14.95},{"s":"m3","d":140,"t":15.05},{"s":"m3","d":145,"t":15.18},{"s":"m3","d":150,"t":15.30},{"s":"m3","d":155,"t":15.42}
],
"y2023": [
{"d":0,"t":13.31},{"d":2,"t":13.27},{"d":5,"t":13.22},{"d":8,"t":13.17},{"d":11,"t":13.14},{"d":14,"t":13.25},{"d":17,"t":13.30},{"d":19,"t":13.28},{"d":22,"t":13.24},{"d":25,"t":13.32},{"d":27,"t":13.28},{"d":30,"t":13.23},{"d":33,"t":13.30},{"d":35,"t":13.35},{"d":38,"t":13.26},{"d":41,"t":13.32},{"d":45,"t":13.20},{"d":48,"t":13.22},{"d":50,"t":13.28},{"d":53,"t":13.50},{"d":56,"t":13.60},{"d":59,"t":13.75},{"d":62,"t":13.80},{"d":65,"t":13.90},{"d":68,"t":13.92},{"d":71,"t":14.00},{"d":74,"t":14.10},{"d":77,"t":14.28},{"d":79,"t":14.25},{"d":82,"t":14.19},{"d":84,"t":14.21},{"d":86,"t":14.17},{"d":89,"t":14.28},{"d":92,"t":14.44},{"d":95,"t":14.57},{"d":98,"t":14.80},{"d":100,"t":14.86},{"d":103,"t":15.04},{"d":106,"t":15.00},{"d":109,"t":15.07},{"d":112,"t":15.20},{"d":115,"t":15.45}
],
"y2024": [
{"d":0,"t":13.09},{"d":2,"t":13.12},{"d":4,"t":13.08},{"d":6,"t":13.18},{"d":8,"t":13.09},{"d":10,"t":13.01},{"d":12,"t":13.04},{"d":13,"t":13.02},{"d":15,"t":12.91},{"d":17,"t":12.88},{"d":19,"t":12.82},{"d":20,"t":12.77},{"d":22,"t":12.71}
],
"arrow": [
{"x1":26.3,"y1":13.85,"x2":21.8,"y2":12.73},
{"x1":17.3,"y1":12.99,"x2":21.8,"y2":12.73},
{"x1":29.5,"y1":12.94,"x2":21.8,"y2":12.73}
]
},
"encoding": {
"x": {"field": "d", "type": "quantitative",
  "scale": {"domain": [0, 190.2], "nice": false, "zero": false},
  "axis": {"title": null, "values": [0,31,59,90,120,151,181],
    "labelExpr": "datum.value == 0 ? 'Jan' : datum.value == 31 ? 'Feb' : datum.value == 59 ? 'Mar' : datum.value == 90 ? 'Apr' : datum.value == 120 ? 'May' : datum.value == 151 ? 'Jun' : ''",
    "labelOffset": 40, "labelFlush": false, "labelFontSize": 15, "labelColor": "#444", "labelPadding": 8,
    "ticks": false, "grid": true, "gridColor": "#b4b4b4", "domainColor": "#b4b4b4", "labelFont": "Liberation Sans"}},
"y": {"field": "t", "type": "quantitative",
  "scale": {"domain": [11, 15.35], "nice": false, "zero": false},
  "axis": {"title": "Temperature (°C)", "values": [11,12,13,14,15], "labelFontSize": 16, "labelColor": "#444", "labelPadding": 13,
    "ticks": false, "grid": true, "gridColor": "#b4b4b4", "domainColor": "#b4b4b4", "labelFlush": false,
    "titleFontSize": 21, "titleFontWeight": "normal", "titleColor": "#444", "titlePadding": 10, "titleY": 85,
    "labelFont": "Liberation Sans", "titleFont": "Liberation Sans"}}
},
"layer": [
{"data": {"name": "gray"}, "mark": {"type": "line", "stroke": "#c6c6c6", "strokeWidth": 1, "clip": true},
 "encoding": {"detail": {"field": "s", "type": "nominal"}}},
{"data": {"name": "means"}, "mark": {"type": "line", "stroke": "#222222", "strokeWidth": 2.5, "interpolate": "monotone", "clip": true},
 "encoding": {"detail": {"field": "s", "type": "nominal"},
   "strokeDash": {"field": "s", "type": "nominal", "scale": {"domain": ["m1","m2","m3"], "range": [[11,5],[7,4],[4,3]]}, "legend": null}}},
{"data": {"name": "y2023"}, "mark": {"type": "line", "stroke": "#ff8000", "strokeWidth": 1.6, "clip": true}, "encoding": {}},
{"data": {"name": "y2024"}, "mark": {"type": "line", "stroke": "#a50000", "strokeWidth": 2.8, "clip": true}, "encoding": {}},
{"data": {"name": "arrow"}, "mark": {"type": "rule", "stroke": "#e0193a", "strokeWidth": 5, "strokeCap": "round", "clip": true},
 "encoding": {"x": {"field": "x1", "type": "quantitative"}, "y": {"field": "y1", "type": "quantitative"},
   "x2": {"field": "x2"}, "y2": {"field": "y2"}}}
]
}
